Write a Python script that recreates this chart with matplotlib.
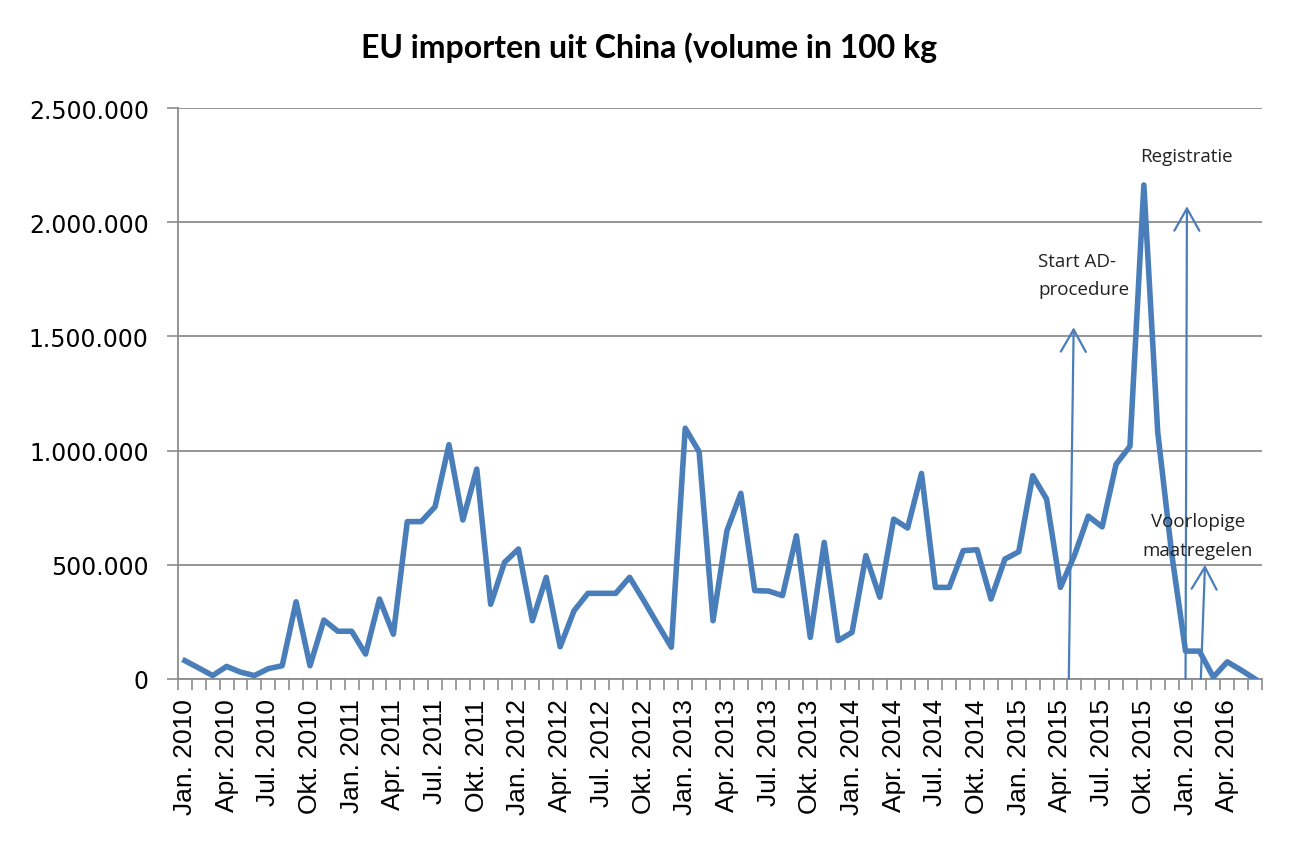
import matplotlib
matplotlib.use("Agg")
import matplotlib.pyplot as plt
from matplotlib.ticker import FuncFormatter, MultipleLocator

# monthly imports Jan 2010 - Jun 2016 (x 1000, in 100 kg)
volume_k = [80, 48, 15, 55, 30, 15, 45, 58, 338, 58, 258, 209,
            209, 109, 350, 196, 689, 689, 754, 1026, 696, 919, 327, 511,
            569, 255, 445, 141, 299, 375, 375, 375, 445, 345, 241, 139,
            1098, 995, 255, 649, 813, 387, 385, 365, 627, 182, 598, 168,
            204, 540, 358, 700, 661, 900, 401, 401, 562, 566, 350, 525,
            557, 890, 788, 401, 540, 713, 666, 940, 1019, 2163, 1080, 550,
            122, 122, 8, 75, 39, 0]
volume = [v * 1000 for v in volume_k]

years = [2010, 2011, 2012, 2013, 2014, 2015, 2016]
quarter_months = ["Jan.", "Apr.", "Jul.", "Okt."]
tick_labels = [f"{m} {y}" for y in years for m in quarter_months][:26]

# annotations: (x start, x end, arrow top, text, text x, text top, align)
events = [
    (64.1, 64.45, 1540000, "Start AD-\nprocedure", 61.9, 1870000, "left"),
    (72.5, 72.6, 2070000, "Registratie", 72.6, 2330000, "center"),
    (73.6, 73.9, 500000, "Voorlopige\nmaatregelen", 73.4, 730000, "center"),
]

blue = "#4a7ebb"
grey = "#8c8c8c"

fig = plt.figure(figsize=(12.99, 8.45), dpi=100)
ax = fig.add_axes([0.137, 0.1953, 0.8345, 0.6757])

x = [i + 0.5 for i in range(len(volume))]
ax.plot(x, volume, color=blue, lw=4, solid_joinstyle="round", zorder=3)

ax.set_xlim(0, len(volume))
ax.set_ylim(0, 2500000)
ax.yaxis.set_major_locator(MultipleLocator(500000))
ax.yaxis.set_major_formatter(FuncFormatter(lambda v, p: f"{int(v):,}".replace(",", ".")))
ax.grid(axis="y", color=grey, lw=1.3)
ax.set_axisbelow(True)

ax.set_xticks([0.5 + 3 * i for i in range(len(tick_labels))])
ax.set_xticklabels(tick_labels, rotation=90, fontsize=19, family="Liberation Sans")
ax.set_xticks(range(len(volume) + 1), minor=True)
ax.tick_params(axis="x", which="major", length=0, pad=14)
ax.tick_params(axis="x", which="minor", length=8, width=1.2, color=grey, direction="out")
ax.tick_params(axis="y", length=8, width=1.2, color=grey, labelsize=17, pad=13)
for lab in ax.get_yticklabels():
    lab.set_family("DejaVu Sans")

for s in ["top", "right"]:
    ax.spines[s].set_visible(False)
for s in ["left", "bottom"]:
    ax.spines[s].set_color(grey)
    ax.spines[s].set_linewidth(1.3)

for x0, x1, top, txt, tx, ty, ha in events:
    ax.annotate("", xy=(x1, top), xytext=(x0, 0),
                arrowprops=dict(arrowstyle="->,head_length=1.6,head_width=0.9",
                                color=blue, lw=1.6, shrinkA=0, shrinkB=0), zorder=4)
    ax.text(tx, ty, txt, ha=ha, va="top", fontsize=13.5, family="Open Sans",
            color="#222222", linespacing=1.75, zorder=5)

fig.text(0.5, 0.944, "EU importen uit China (volume in 100 kg", ha="center", va="center",
         fontsize=23, fontweight="bold", family="Lato")

fig.savefig("out.png", dpi=100)
